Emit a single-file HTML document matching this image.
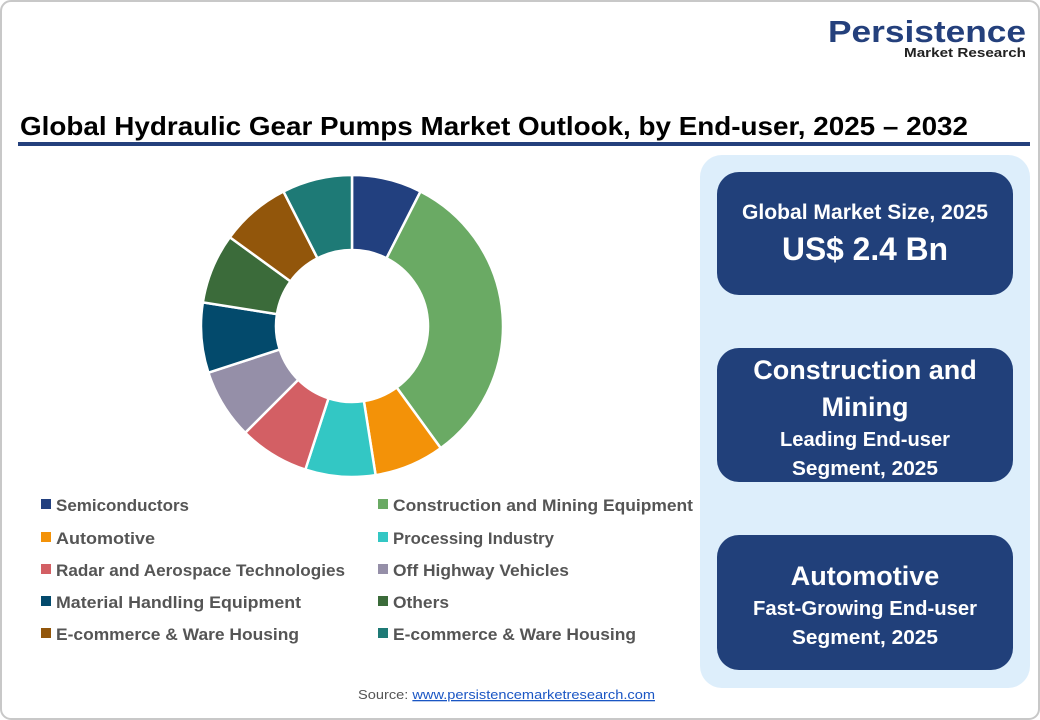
<!DOCTYPE html>
<html><head><meta charset="utf-8"><style>
html,body{margin:0;padding:0;background:#fff;}
svg{display:block;font-family:"Liberation Sans",sans-serif;}
</style></head><body>
<svg width="1040" height="720" viewBox="0 0 1040 720" xmlns="http://www.w3.org/2000/svg">
<rect x="1" y="1" width="1038" height="718" rx="10" fill="#fff" stroke="#c8c8c8" stroke-width="2"/>
<text x="1026" y="42" text-anchor="end" font-size="31" font-weight="bold" fill="#24407c" textLength="198" lengthAdjust="spacingAndGlyphs">Persistence</text>
<text x="1026" y="57" text-anchor="end" font-size="13" font-weight="bold" fill="#222" textLength="122" lengthAdjust="spacingAndGlyphs">Market Research</text>
<text x="20" y="135" font-size="26" font-weight="bold" fill="#000" textLength="948" lengthAdjust="spacingAndGlyphs">Global Hydraulic Gear Pumps Market Outlook, by End-user, 2025 – 2032</text>
<rect x="18" y="142" width="1012" height="4" fill="#24407c"/>
<rect x="700" y="155" width="330" height="533" rx="22" fill="#ddeefb"/>
<rect x="717" y="172" width="296" height="123" rx="22" fill="#21407a"/>
<text x="865" y="219" text-anchor="middle" font-size="21" font-weight="bold" fill="#fff" textLength="246" lengthAdjust="spacingAndGlyphs">Global Market Size, 2025</text>
<text x="865" y="260" text-anchor="middle" font-size="32" font-weight="bold" fill="#fff" textLength="166" lengthAdjust="spacingAndGlyphs">US$ 2.4 Bn</text>
<rect x="717" y="348" width="296" height="134" rx="22" fill="#21407a"/>
<text x="865" y="379" text-anchor="middle" font-size="27" font-weight="bold" fill="#fff">Construction and</text>
<text x="865" y="416" text-anchor="middle" font-size="27" font-weight="bold" fill="#fff">Mining</text>
<text x="865" y="446" text-anchor="middle" font-size="20" font-weight="bold" fill="#fff" textLength="170" lengthAdjust="spacingAndGlyphs">Leading End-user</text>
<text x="865" y="475" text-anchor="middle" font-size="20" font-weight="bold" fill="#fff" textLength="146" lengthAdjust="spacingAndGlyphs">Segment, 2025</text>
<rect x="717" y="535" width="296" height="135" rx="22" fill="#21407a"/>
<text x="865" y="585" text-anchor="middle" font-size="27" font-weight="bold" fill="#fff">Automotive</text>
<text x="865" y="615" text-anchor="middle" font-size="20" font-weight="bold" fill="#fff" textLength="224" lengthAdjust="spacingAndGlyphs">Fast-Growing End-user</text>
<text x="865" y="644" text-anchor="middle" font-size="20" font-weight="bold" fill="#fff" textLength="146" lengthAdjust="spacingAndGlyphs">Segment, 2025</text>
<g id="donut" stroke="#fff" stroke-width="2.5"></g>
<g font-size="17" font-weight="bold" fill="#555">
<rect x="41" y="499" width="10" height="10" fill="#22407f"/><text x="56" y="511" textLength="133" lengthAdjust="spacingAndGlyphs">Semiconductors</text>
<rect x="41" y="532" width="10" height="10" fill="#f39208"/><text x="56" y="544" textLength="99" lengthAdjust="spacingAndGlyphs">Automotive</text>
<rect x="41" y="564" width="10" height="10" fill="#d35f64"/><text x="56" y="576" textLength="289" lengthAdjust="spacingAndGlyphs">Radar and Aerospace Technologies</text>
<rect x="41" y="596" width="10" height="10" fill="#034a6c"/><text x="56" y="608" textLength="245" lengthAdjust="spacingAndGlyphs">Material Handling Equipment</text>
<rect x="41" y="628" width="10" height="10" fill="#92560b"/><text x="56" y="640" textLength="243" lengthAdjust="spacingAndGlyphs">E-commerce &amp; Ware Housing</text>
<rect x="378" y="499" width="10" height="10" fill="#6aaa64"/><text x="393" y="511" textLength="300" lengthAdjust="spacingAndGlyphs">Construction and Mining Equipment</text>
<rect x="378" y="532" width="10" height="10" fill="#33c7c4"/><text x="393" y="544" textLength="161" lengthAdjust="spacingAndGlyphs">Processing Industry</text>
<rect x="378" y="564" width="10" height="10" fill="#958fa8"/><text x="393" y="576" textLength="176" lengthAdjust="spacingAndGlyphs">Off Highway Vehicles</text>
<rect x="378" y="596" width="10" height="10" fill="#3b6b3a"/><text x="393" y="608" textLength="56" lengthAdjust="spacingAndGlyphs">Others</text>
<rect x="378" y="628" width="10" height="10" fill="#1e7a76"/><text x="393" y="640" textLength="243" lengthAdjust="spacingAndGlyphs">E-commerce &amp; Ware Housing</text>
</g>
<text x="358" y="699" font-size="13" fill="#555" textLength="297" lengthAdjust="spacingAndGlyphs">Source: <tspan fill="#1a56c4" text-decoration="underline">www.persistencemarketresearch.com</tspan></text>
</svg>
<script>
(function(){
var cx=352,cy=326,R=151,r=76;
var vals=[27,117,27,27,27,27,27,27,27,27];
var cols=["#22407f","#6aaa64","#f39208","#33c7c4","#d35f64","#958fa8","#034a6c","#3b6b3a","#92560b","#1e7a76"];
var g=document.getElementById("donut"),a=0,ns="http://www.w3.org/2000/svg";
function pt(rad,deg){var t=deg*Math.PI/180;return [cx+rad*Math.sin(t),cy-rad*Math.cos(t)];}
for(var i=0;i<vals.length;i++){
var b=a+vals[i],l=vals[i]>180?1:0;
var p1=pt(R,a),p2=pt(R,b),p3=pt(r,b),p4=pt(r,a);
var d="M"+p1+"A"+R+","+R+" 0 "+l+" 1 "+p2+"L"+p3+"A"+r+","+r+" 0 "+l+" 0 "+p4+"Z";
var p=document.createElementNS(ns,"path");p.setAttribute("d",d);p.setAttribute("fill",cols[i]);g.appendChild(p);a=b;}
})();
</script>
</body></html>
